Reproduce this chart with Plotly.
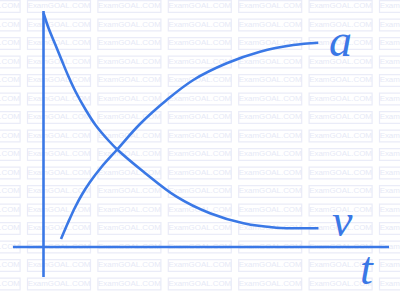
import plotly.graph_objects as go

# ---- data (t in arbitrary units, origin at the axes' crossing) ----
t_v = [0, 5, 12, 18.5, 25, 32, 42, 52, 65, 74, 100, 133, 166.5, 200, 233, 266.5, 275]
v_vals = [234, 219, 202, 186, 170.5, 155.5, 137.5, 122, 106.5, 97.3, 75.3, 50.3, 33.7, 23.7, 19.3, 18.7, 18.8]

t_a = [17.5, 24.8, 31.5, 38.2, 46.5, 58, 73.2, 96.5, 123.2, 149.8, 183.2, 216.5, 249.8, 274.8]
a_vals = [8, 25, 39.5, 52, 65, 80, 97, 123, 147, 167, 183.7, 195.3, 202, 204.3]

# axis extents
t_axis_extent = [-30.5, 345.5]
y_axis_extent = [-30, 236]

labels = ["a", "v", "t"]
label_t = [297, 298.5, 323.5]
label_y = [207, 27, -21]

BLUE = "#3a78e6"
W, H = 400, 296
X0, Y0 = 43.5, 247  # pixel position of the origin

fig = go.Figure()

# ---- faint watermark grid (below everything) ----
wm_x, wm_y = [], []
for j in range(16):
    for k in range(-1, 6):
        cx = 59 + 70.4 * k
        cy = 6.5 + 18.5 * j
        wm_x.append(cx - X0)
        wm_y.append(Y0 - cy)
        fig.add_shape(type="rect", layer="below",
                      x0=cx - X0 - 31.5, x1=cx - X0 + 31.5,
                      y0=Y0 - cy - 5.8, y1=Y0 - cy + 5.8,
                      line=dict(color="#eaecf8", width=1.2),
                      fillcolor="rgba(0,0,0,0)")
fig.add_trace(go.Scatter(x=wm_x, y=wm_y, mode="text",
                         text=["ExamGOAL.COM"] * len(wm_x),
                         textfont=dict(family="Liberation Sans", size=7.9,
                                       color="#e6e9f6"),
                         hoverinfo="skip", showlegend=False))

# ---- axes ----
fig.add_trace(go.Scatter(x=t_axis_extent, y=[0, 0], mode="lines",
                         line=dict(color=BLUE, width=2.6), showlegend=False))
fig.add_trace(go.Scatter(x=[0, 0], y=y_axis_extent, mode="lines",
                         line=dict(color=BLUE, width=2.6), showlegend=False))

# ---- curves ----
fig.add_trace(go.Scatter(x=t_v, y=v_vals, mode="lines", line_shape="spline",
                         line=dict(color=BLUE, width=2.6), showlegend=False))
fig.add_trace(go.Scatter(x=t_a, y=a_vals, mode="lines", line_shape="spline",
                         line=dict(color=BLUE, width=2.6), showlegend=False))

# ---- labels ----
for txt, lx, ly in zip(labels, label_t, label_y):
    fig.add_annotation(x=lx, y=ly, text=f"<i>{txt}</i>", showarrow=False,
                       font=dict(family="Liberation Serif", size=46, color=BLUE),
                       xanchor="center", yanchor="middle")

fig.update_layout(
    width=W, height=H,
    margin=dict(l=0, r=0, t=0, b=0),
    paper_bgcolor="white", plot_bgcolor="white",
    xaxis=dict(range=[-X0, W - X0], visible=False, fixedrange=True),
    yaxis=dict(range=[Y0 - H, Y0], visible=False, fixedrange=True),
    showlegend=False,
)

fig.write_html("out.html")
